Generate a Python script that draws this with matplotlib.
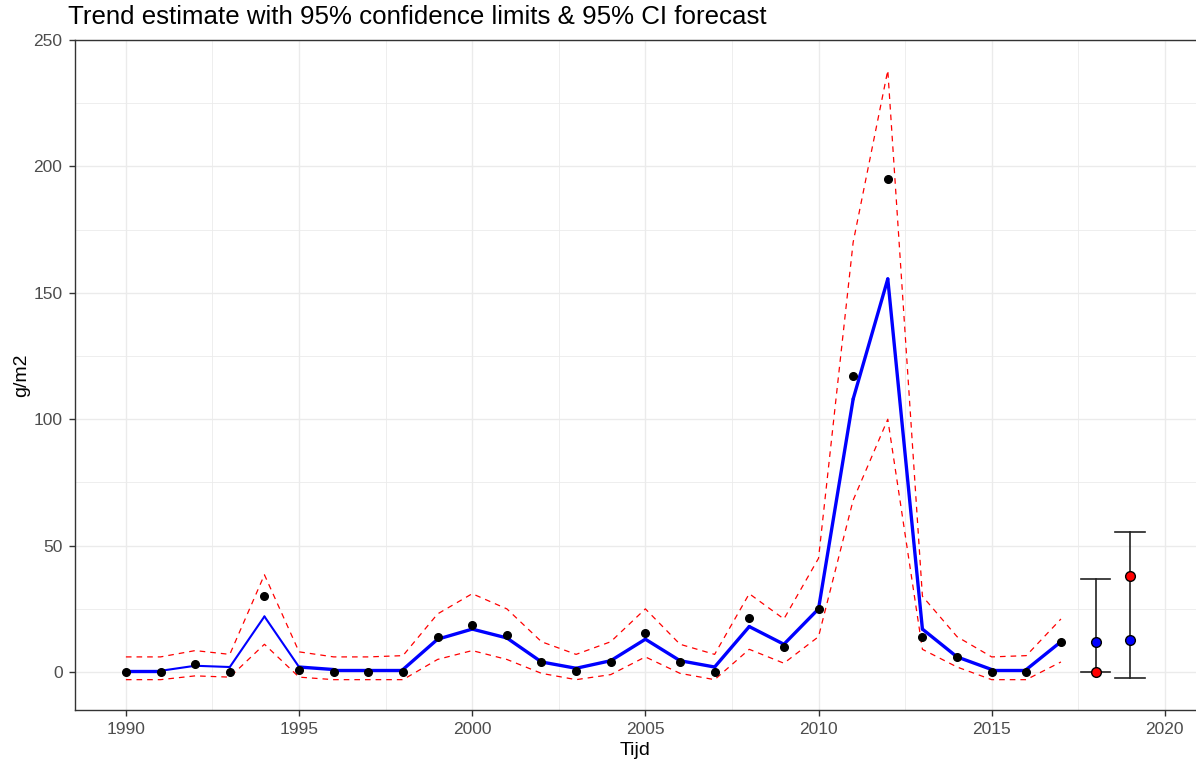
import numpy as np
import matplotlib.pyplot as plt
from matplotlib.collections import LineCollection

# yearly observations and trend with 95% limits
years = list(range(1990, 2018))
observed = [0, 0, 3, 0, 30, 1, 0, 0, 0, 14, 18.5, 14.5, 4, 0.5, 4, 15.5, 4, 0,
            21.5, 10, 25, 117, 195, 14, 6, 0, 0, 12]
trend = [0.5, 0.5, 2.5, 2, 22, 2, 1, 1, 1, 13, 17, 13.5, 4, 1.5, 4.5, 13, 4.5, 2,
         18, 11, 25, 108, 155.5, 17, 6, 1, 1, 12]
upper = [6, 6, 8.5, 7, 38.5, 8, 6, 6, 6.5, 23, 31, 25, 12, 7, 12, 25, 11, 7,
         31, 21, 45, 170, 238, 30, 14, 6, 6.5, 21]
lower = [-3, -3, -1.5, -2, 11, -2, -3, -3, -3, 5, 8.5, 5, -0.5, -3, -1, 6, -0.5, -3,
         9, 3.5, 14, 68, 100, 9, 2, -3, -3, 4]

# forecast years
fc_years = [2018, 2019]
fc_pred = [12, 12.5]
fc_obs = [0, 38]
fc_low = [0, -2.5]
fc_high = [37, 55.5]

plt.rcParams['font.family'] = ['Liberation Sans', 'DejaVu Sans']

fig = plt.figure(figsize=(11.96, 7.64), dpi=100)
ax = fig.add_axes([75 / 1196, 1 - 710 / 764, 1 - 75 / 1196, (710 - 40) / 764])

# grid (ggplot style, major + minor)
ax.set_xticks([1990, 1995, 2000, 2005, 2010, 2015, 2020])
ax.set_xticks(np.arange(1987.5, 2021, 5), minor=True)
ax.set_yticks([0, 50, 100, 150, 200, 250])
ax.set_yticks([25, 75, 125, 175, 225], minor=True)
ax.grid(True, which='major', color='#EBEBEB', lw=1.0, zorder=0)
ax.grid(True, which='minor', color='#EBEBEB', lw=0.6, zorder=0)
ax.set_axisbelow(True)

# confidence limits
ax.plot(years, upper, color='red', lw=0.9, ls=(0, (4.5, 4)), zorder=2)
ax.plot(years, lower, color='red', lw=0.9, ls=(0, (4.5, 4)), zorder=2)

# trend line, thinner around the 1994 bump
pts = np.column_stack([years, trend])
segs = np.stack([pts[:-1], pts[1:]], axis=1)
widths = [1.5 if 1991 <= y < 1995 else 2.4 for y in years[:-1]]
ax.add_collection(LineCollection(segs, colors='blue', linewidths=widths,
                                 capstyle='round', joinstyle='round', zorder=3))

ax.plot(years, observed, 'o', color='black', ms=5.5, zorder=4)

# forecast error bars
for x, lo, hi in zip(fc_years, fc_low, fc_high):
    ax.plot([x, x], [lo, hi], color='#222222', lw=1.2, zorder=3)
    ax.plot([x - 0.43, x + 0.43], [lo, lo], color='#222222', lw=1.2, zorder=3)
    ax.plot([x - 0.43, x + 0.43], [hi, hi], color='#222222', lw=1.2, zorder=3)
ax.plot(fc_years, fc_pred, 'o', mfc='blue', mec='black', mew=1.0, ms=7, zorder=5)
ax.plot(fc_years, fc_obs, 'o', mfc='red', mec='black', mew=1.0, ms=7, zorder=5)

ax.set_xlim(1988.53, 2020.9)
ax.set_ylim(-15, 250)

for side in ['left', 'bottom', 'top']:
    ax.spines[side].set_color('#333333')
    ax.spines[side].set_linewidth(1.0)
ax.spines['right'].set_visible(False)
ax.tick_params(which='major', length=4, width=1.0, color='#333333',
               labelcolor='#4D4D4D', labelsize=12.5, pad=5)
ax.tick_params(which='minor', length=0)

ax.set_xlabel('Tijd', fontsize=14, color='black', labelpad=3)
ax.set_ylabel('g/m2', fontsize=14, color='black', labelpad=2)
fig.text(68 / 1196, 1 - 17 / 764, 'Trend estimate with 95% confidence limits & 95% CI forecast',
         fontsize=18.6, va='center', ha='left')

fig.savefig('out.png', dpi=100)
